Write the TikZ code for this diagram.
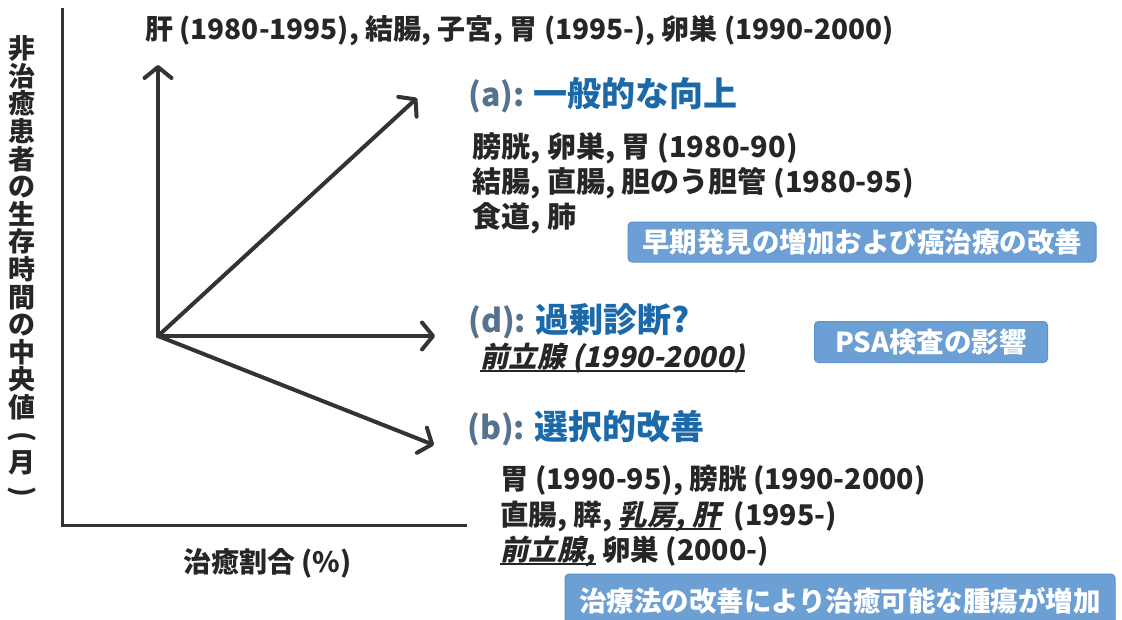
\documentclass[tikz,border=0pt]{standalone}
\usepackage{fontspec}
\usepackage{graphicx}
\setmainfont{Noto Sans CJK JP}
\usetikzlibrary{arrows.meta}
\definecolor{ink}{HTML}{262626}
\definecolor{axis}{HTML}{333333}
\definecolor{ttlblue}{HTML}{1C69AA}
\definecolor{slate}{HTML}{55738E}
\definecolor{boxfill}{HTML}{6C9FD3}
\definecolor{boxline}{HTML}{5E92C8}
\newcommand\myul[1]{\setbox0\hbox{\addfontfeature{FakeSlant=0.22}#1}\rlap{\rule[-5pt]{\wd0}{2pt}}\box0}
\newcommand\fs[1]{\fontsize{#1}{#1}\selectfont}
\newcommand\lbl[1]{\textcolor{slate}{\bfseries #1}}
\newcommand\vparen[1]{\rotatebox[origin=c]{-90}{#1}}
\tikzset{
  txt/.style={anchor=west, inner sep=0pt, text=ink, font=\fs{29}\bfseries},
  ttl/.style={anchor=west, inner sep=0pt, font=\fs{32}},
  bluebox/.style={fill=boxfill, draw=boxline, line width=1pt, rounded corners=4pt, text=white, font=\fs{27.5}\bfseries, inner sep=0pt},
  axisline/.style={line width=3pt, draw=axis},
  vec/.style={line width=4pt, draw=axis, line cap=round, -{Straight Barb[length=11pt,width=27pt,line cap=round,line join=round]}}
}
\begin{document}
\begin{tikzpicture}[x=1pt,y=-1pt]
\useasboundingbox (0,0) rectangle (1122,619);
% axes
\coordinate (ytop) at (62,8);
\coordinate (corner) at (62,525);
\coordinate (xend) at (467,525);
\draw[axisline] (ytop) -- (corner) -- (xend);
% vectors
\coordinate (O) at (158,336);
\coordinate (tipU) at (158,65);
\coordinate (tipA) at (417,98);
\coordinate (tipD) at (435,336);
\coordinate (tipB) at (434,445);
\draw[vec] (O) -- (tipU);
\draw[vec] (O) -- (tipA);
\draw[vec] (O) -- (tipD);
\draw[vec] (O) -- (tipB);
% axis labels
\node[inner sep=0pt, text=ink, align=center, font=\fontsize{27}{27.6}\selectfont\bfseries] (ylab) at (22,268)
  {非\\治\\癒\\患\\者\\の\\生\\存\\時\\間\\の\\中\\央\\値\\\vparen{(}\\月\\\vparen{)}};
\node[txt, font=\fs{28}\bfseries] (xlab) at (183,563) {治癒割合 (\%)};
% top label
\node[txt, font=\fs{28}\bfseries] (top) at (145,31) {肝 (1980-1995), 結腸, 子宮, 胃 (1995-), 卵巣 (1990-2000)};
% (a)
\node[ttl] (ta) at (468,95) {\lbl{(a):} \textcolor{ttlblue}{\fs{34}\bfseries 一般的な向上}};
\node[txt] (a1) at (472,148) {膀胱, 卵巣, 胃 (1980-90)};
\node[txt] (a2) at (472,183) {結腸, 直腸, 胆のう胆管 (1980-95)};
\node[txt] (a3) at (472,218) {食道, 肺};
\node[bluebox, minimum width=468pt, minimum height=40pt] (box1) at (862,242) {早期発見の増加および癌治療の改善};
% (d)
\node[ttl] (td) at (468,321) {\lbl{(d):} \textcolor{ttlblue}{\fs{34}\bfseries 過剰診断?}};
\node[txt, font=\fs{28.5}\bfseries] (d1) at (480,358) {\myul{前立腺 (1990-2000)}};
\node[bluebox, minimum width=233pt, minimum height=41pt] (box2) at (931,342) {PSA検査の影響};
% (b)
\node[ttl] (tb) at (467,428) {\lbl{(b):} \textcolor{ttlblue}{\fs{34}\bfseries 選択的改善}};
\node[txt, font=\fs{28.5}\bfseries] (b1) at (500,481) {胃 (1990-95), 膀胱 (1990-2000)};
\node[txt, font=\fs{28.5}\bfseries] (b2) at (500,516) {直腸, 膵, \myul{乳房, 肝}\ \ (1995-)};
\node[txt, font=\fs{28.5}\bfseries] (b3) at (500,551) {\myul{前立腺,}\ 卵巣 (2000-)};
\node[bluebox, minimum width=550pt, minimum height=50pt, text depth=0pt] (box3) at (840,599) {治療法の改善により治癒可能な腫瘍が増加};
\end{tikzpicture}
\end{document}
